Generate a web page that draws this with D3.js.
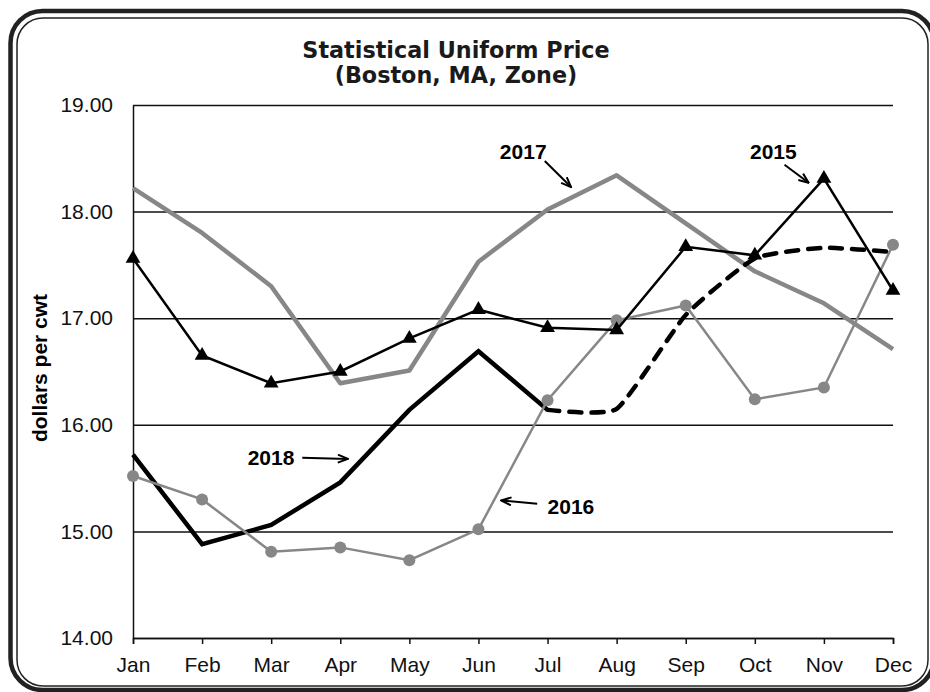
<!DOCTYPE html>
<meta charset="utf-8">
<style>
  body { margin: 0; background: #fff; }
  svg { display: block; }
  .axis text { font-family: "Liberation Sans", Arial, sans-serif; font-size: 21px; fill: #111; }
  .axis path, .axis line { stroke: #111; stroke-width: 1.5px; }
  .note { font-family: "Liberation Sans", Arial, sans-serif; font-size: 21px; font-weight: bold; fill: #000; }
</style>
<body>
<svg width="930" height="692"></svg>
<script src="https://d3js.org/d3.v7.min.js"></script>
<script>
  // values, $/cwt
  let months = ["Jan", "Feb", "Mar", "Apr", "May", "Jun", "Jul", "Aug", "Sep", "Oct", "Nov", "Dec"];
  let y2015 = [17.56, 16.65, 16.39, 16.50, 16.81, 17.08, 16.91, 16.89, 17.67, 17.59, 18.31, 17.26];
  let y2016 = [15.52, 15.30, 14.81, 14.85, 14.73, 15.02, 16.23, 16.98, 17.12, 16.24, 16.35, 17.69];
  let y2017 = [18.22, 17.80, 17.30, 16.39, 16.51, 17.53, 18.02, 18.34, 17.89, 17.44, 17.14, 16.71];
  let y2018 = [15.72, 14.88, 15.06, 15.46, 16.14, 16.69, 16.14];
  let y2018f = [16.14, 16.15, 17.03, 17.56, 17.66, 17.62]; // forecast Jul - Dec
  let yTicks = [14, 15, 16, 17, 18, 19];

  // labels + arrows, in month index / price units
  let notes = [
    { text: "2017", x: 5.31, y: 18.49, ax1: 5.96, ay1: 18.475, ax2: 6.34, ay2: 18.23 },
    { text: "2015", x: 8.93, y: 18.49, ax1: 9.43, ay1: 18.44, ax2: 9.78, ay2: 18.27 },
    { text: "2018", x: 1.66, y: 15.62, ax1: 2.45, ay1: 15.69, ax2: 3.11, ay2: 15.68 },
    { text: "2016", x: 6.00, y: 15.16, ax1: 5.85, ay1: 15.26, ax2: 5.33, ay2: 15.29 }
  ];

  var svg = d3.select("svg");
  var GRAY = "#878787";

  var plotL = 133, plotR = 893, plotT = 105, plotB = 638;

  var x = d3.scalePoint().domain(months).range([plotL, plotR]);
  var xi = d3.scaleLinear().domain([0, 11]).range([plotL, plotR]);
  var y = d3.scaleLinear().domain([14, 19]).range([plotB, plotT]);

  // frame
  svg.append("rect")
    .attr("x", 10.5).attr("y", 11).attr("width", 923.5).attr("height", 679)
    .attr("rx", 32).attr("fill", "none").attr("stroke", "#222").attr("stroke-width", 4.5);
  svg.append("rect")
    .attr("x", 17).attr("y", 18).attr("width", 911).attr("height", 668)
    .attr("rx", 26).attr("fill", "none").attr("stroke", "#222").attr("stroke-width", 1.5);

  // title
  svg.append("text")
    .attr("x", 456).attr("y", 58)
    .attr("text-anchor", "middle")
    .style("font-family", "DejaVu Sans, Verdana, sans-serif")
    .style("font-size", "22.3px").style("font-weight", "bold").style("fill", "#1a1a1a")
    .selectAll("tspan")
    .data(["Statistical Uniform Price", "(Boston, MA, Zone)"])
    .enter().append("tspan")
      .attr("x", 456)
      .attr("dy", function(d, i) { return i ? 25 : 0; })
      .text(function(d) { return d; });

  // y axis + grid
  var yAxis = svg.append("g")
    .attr("class", "axis")
    .attr("transform", "translate(" + plotL + ",0)")
    .call(d3.axisLeft(y).tickValues(yTicks).tickFormat(d3.format(".2f"))
      .tickSizeInner(-(plotR - plotL)).tickSizeOuter(0).tickPadding(20));
  yAxis.selectAll(".tick line").attr("stroke-width", 1.5);

  // x axis
  svg.append("g")
    .attr("class", "axis")
    .attr("transform", "translate(0," + plotB + ")")
    .call(d3.axisBottom(x).tickSize(6).tickPadding(13));

  svg.append("text")
    .attr("transform", "translate(47,368) rotate(-90)")
    .attr("text-anchor", "middle")
    .style("font-family", "Liberation Sans, Arial, sans-serif")
    .style("font-size", "21px").style("font-weight", "bold")
    .text("dollars per cwt");

  var line = d3.line()
    .x(function(d) { return x(d.m); })
    .y(function(d) { return y(d.v); });

  function pts(vals, start) {
    return vals.map(function(v, i) { return { m: months[i + (start || 0)], v: v }; });
  }

  // 2017
  svg.append("path")
    .datum(pts(y2017))
    .attr("fill", "none").attr("stroke", GRAY).attr("stroke-width", 4.5)
    .attr("stroke-linejoin", "round")
    .attr("d", line);

  // 2018 actual
  svg.append("path")
    .datum(pts(y2018))
    .attr("fill", "none").attr("stroke", "#000").attr("stroke-width", 4.5)
    .attr("d", line);

  // 2016
  svg.append("path")
    .datum(pts(y2016))
    .attr("fill", "none").attr("stroke", GRAY).attr("stroke-width", 2.5)
    .attr("d", line);
  svg.append("g").selectAll("circle")
    .data(pts(y2016))
    .enter().append("circle")
      .attr("cx", function(d) { return x(d.m); })
      .attr("cy", function(d) { return y(d.v); })
      .attr("r", 6)
      .attr("fill", GRAY);

  // 2015
  svg.append("path")
    .datum(pts(y2015))
    .attr("fill", "none").attr("stroke", "#000").attr("stroke-width", 2.5)
    .attr("d", line);
  svg.append("g").selectAll("path")
    .data(pts(y2015))
    .enter().append("path")
      .attr("transform", function(d) { return "translate(" + x(d.m) + "," + y(d.v) + ")"; })
      .attr("d", d3.symbol().type(d3.symbolTriangle).size(95))
      .attr("fill", "#000");

  // 2018 forecast, smoothed dashed
  svg.append("path")
    .datum(pts(y2018f, 6))
    .attr("fill", "none").attr("stroke", "#000").attr("stroke-width", 4.5)
    .attr("stroke-dasharray", "12,10").attr("stroke-linecap", "round")
    .attr("d", line.curve(d3.curveCardinal.tension(0.5)));

  // annotations
  svg.append("defs").append("marker")
    .attr("id", "arrow")
    .attr("markerUnits", "userSpaceOnUse")
    .attr("viewBox", "0 0 12 10")
    .attr("refX", 11).attr("refY", 5)
    .attr("markerWidth", 12).attr("markerHeight", 10)
    .attr("orient", "auto")
    .append("path")
      .attr("d", "M1,1 L11,5 L1,9")
      .attr("fill", "none").attr("stroke", "#000").attr("stroke-width", 2);

  var note = svg.append("g").selectAll("g")
    .data(notes)
    .enter().append("g");
  note.append("text")
    .attr("class", "note")
    .attr("x", function(d) { return xi(d.x); })
    .attr("y", function(d) { return y(d.y); })
    .text(function(d) { return d.text; });
  note.append("line")
    .attr("x1", function(d) { return xi(d.ax1); })
    .attr("y1", function(d) { return y(d.ay1); })
    .attr("x2", function(d) { return xi(d.ax2); })
    .attr("y2", function(d) { return y(d.ay2); })
    .attr("stroke", "#000").attr("stroke-width", 2)
    .attr("marker-end", "url(#arrow)");
</script>
</body>
